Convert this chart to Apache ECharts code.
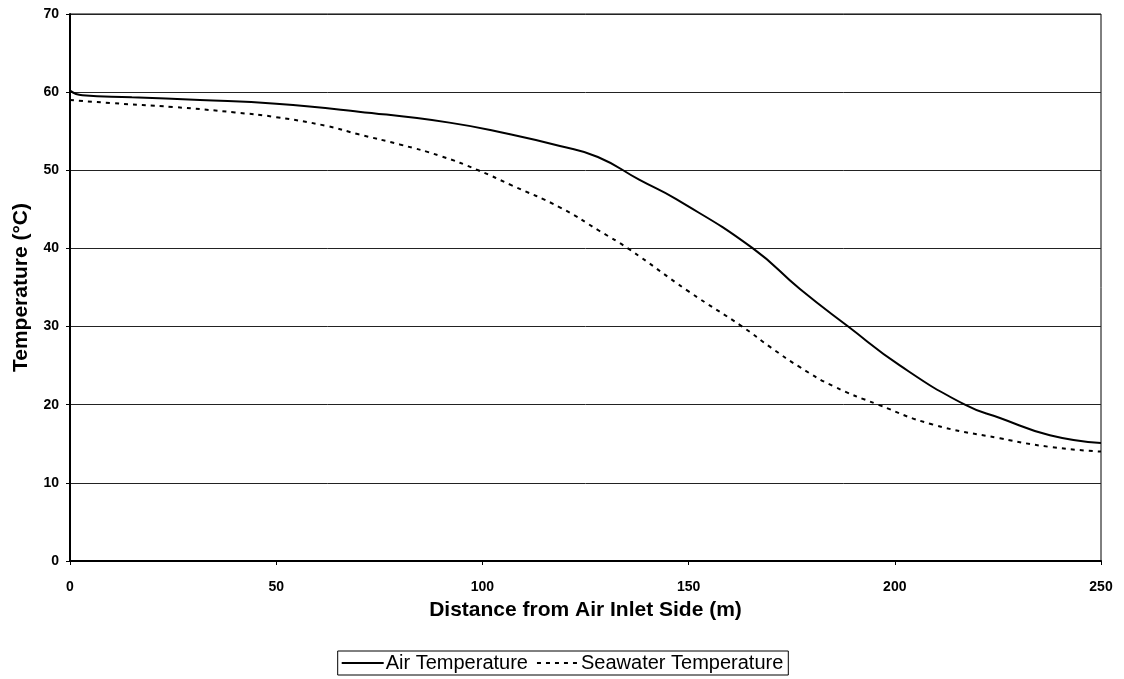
<!DOCTYPE html>
<html lang="en">
  <head>
    <meta charset="UTF-8" />
    <title>Temperature profile</title>
    <script src="https://cdn.jsdelivr.net/npm/echarts@6/dist/echarts.min.js"></script>
    <style>
      html, body { margin: 0; padding: 0; background: #fff; }
      #main { width: 1124px; height: 679px; }
    </style>
  </head>
  <body>
    <div id="main"></div>
    <script>
      // distance (m) and temperature (°C)
      var airDist = [0, 3, 15, 31.5, 50, 70, 92, 106.7, 118.8, 128, 138, 147, 165.6, 177, 188.7, 201.3, 217, 225.5, 237.6, 250];
      var airTemp = [60.2, 59.6, 59.35, 59.0, 58.5, 57.5, 56.1, 54.6, 53.1, 51.7, 48.8, 46.3, 40, 34.8, 30, 25, 20, 18.3, 16.1, 15.1];

      var seaDist = [0, 10, 25, 40, 50, 62, 70, 80, 90, 99, 107, 119, 128.5, 135.3, 150, 163, 170, 177, 185, 196, 209, 225.5, 237.6, 250];
      var seaTemp = [59.0, 58.6, 58.1, 57.4, 56.8, 55.7, 54.6, 53.3, 51.8, 50.0, 48.1, 45.2, 42.2, 40, 34.5, 30, 27.3, 24.8, 22.4, 20, 17.5, 15.7, 14.6, 14.0];

      var seriesNames = ["Air Temperature", "Seawater Temperature"];
      var xTitle = "Distance from Air Inlet Side (m)";
      var yTitle = "Temperature (\u00B0C)";

      function pairs(xs, ys) {
        return xs.map(function (x, i) {
          return [x, ys[i]];
        });
      }

      var myChart = echarts.init(document.getElementById("main"));

      var option = {
        backgroundColor: "#fff",
        animation: false,
        textStyle: { fontFamily: "Liberation Sans", color: "#000" },
        grid: {
          left: 70,
          right: 23,
          top: 14,
          bottom: 118,
          show: true,
          borderColor: "#000",
          borderWidth: 1,
        },
        legend: {
          data: seriesNames,
          bottom: 4,
          left: "center",
          itemWidth: 42,
          itemHeight: 10,
          itemGap: 8,
          padding: [2, 5, 2, 3],
          borderColor: "#000",
          borderWidth: 1,
          borderRadius: 0,
          itemStyle: { opacity: 0 },
          textStyle: { fontSize: 20, color: "#000", fontFamily: "Liberation Sans", padding: [0, 0, 0, -3] },
        },
        xAxis: {
          type: "value",
          min: 0,
          max: 250,
          interval: 50,
          name: xTitle,
          nameLocation: "middle",
          nameGap: 39,
          nameTextStyle: { fontSize: 21, fontWeight: "bold", color: "#000" },
          axisLine: { show: true, lineStyle: { color: "#000", width: 2 } },
          axisTick: { show: true, length: 4, lineStyle: { color: "#000" } },
          axisLabel: { fontSize: 14, fontWeight: "bold", color: "#000", margin: 19 },
          splitLine: { show: false },
        },
        yAxis: {
          type: "value",
          min: 0,
          max: 70,
          interval: 10,
          name: yTitle,
          nameLocation: "middle",
          nameGap: 38,
          nameTextStyle: { fontSize: 21, fontWeight: "bold", color: "#000" },
          axisLine: { show: true, lineStyle: { color: "#000", width: 2 } },
          axisTick: { show: true, length: 4, lineStyle: { color: "#000" } },
          axisLabel: { fontSize: 14, fontWeight: "bold", color: "#000", margin: 11 },
          splitLine: { show: true, lineStyle: { color: "#222", width: 1 } },
        },
        series: [
          {
            name: seriesNames[0],
            type: "line",
            smooth: 0.5,
            symbol: "none",
            lineStyle: { color: "#000", width: 2, type: "solid" },
            itemStyle: { color: "#000" },
            data: pairs(airDist, airTemp),
          },
          {
            name: seriesNames[1],
            type: "line",
            smooth: 0.5,
            symbol: "none",
            lineStyle: { color: "#000", width: 2, type: [4, 5] },
            itemStyle: { color: "#000" },
            data: pairs(seaDist, seaTemp),
          },
        ],
      };

      myChart.setOption(option);
    </script>
  </body>
</html>
